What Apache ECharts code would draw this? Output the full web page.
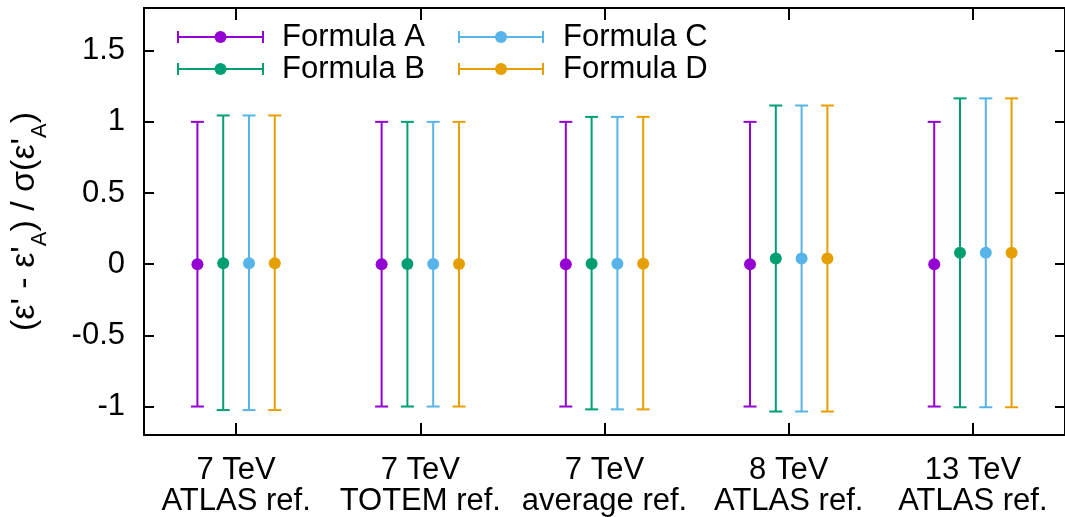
<!DOCTYPE html>
<html>
<head>
<meta charset="utf-8">
<script src="https://cdn.jsdelivr.net/npm/echarts@6/dist/echarts.min.js"></script>
<style>
  html, body { margin: 0; padding: 0; background: #fff; }
  #chart { width: 1065px; height: 517px; }
</style>
</head>
<body>
<div id="chart"></div>
<script>
// Categories along the x axis (energy / reference used)
const categories = ['7 TeV\nATLAS ref.', '7 TeV\nTOTEM ref.', '7 TeV\naverage ref.', '8 TeV\nATLAS ref.', '13 TeV\nATLAS ref.'];

// Normalised deviation: central value, upper end, lower end of each error bar
const formulaA_mid = [0, 0, 0, 0, 0];
const formulaA_hi  = [1, 1, 1, 1, 1];
const formulaA_lo  = [-1, -1, -1, -1, -1];

const formulaB_mid = [0.006, 0.002, 0.003, 0.04, 0.08];
const formulaB_hi  = [1.045, 1.0, 1.035, 1.115, 1.165];
const formulaB_lo  = [-1.025, -1.0, -1.02, -1.035, -1.005];

const formulaC_mid = [0.006, 0.002, 0.003, 0.04, 0.08];
const formulaC_hi  = [1.045, 1.0, 1.035, 1.115, 1.165];
const formulaC_lo  = [-1.025, -1.0, -1.02, -1.035, -1.005];

const formulaD_mid = [0.006, 0.002, 0.003, 0.04, 0.08];
const formulaD_hi  = [1.045, 1.0, 1.035, 1.115, 1.165];
const formulaD_lo  = [-1.025, -1.0, -1.02, -1.035, -1.005];

const yTicks = [-1, -0.5, 0, 0.5, 1, 1.5];

const FONT = "'Liberation Sans', Arial, Helvetica, sans-serif";
const FS = 31;
const formulas = [
  { name: 'Formula A', color: '#9400d3', mid: formulaA_mid, hi: formulaA_hi, lo: formulaA_lo, shift: -0.21 },
  { name: 'Formula B', color: '#009e73', mid: formulaB_mid, hi: formulaB_hi, lo: formulaB_lo, shift: -0.07 },
  { name: 'Formula C', color: '#56b4e9', mid: formulaC_mid, hi: formulaC_hi, lo: formulaC_lo, shift: 0.07 },
  { name: 'Formula D', color: '#e69f00', mid: formulaD_mid, hi: formulaD_hi, lo: formulaD_lo, shift: 0.21 }
];

const CAP = 6.5, DOT = 6, LW = 2;

function errorBarSeries(f) {
  return {
    type: 'custom',
    name: f.name,
    xAxisIndex: 0,
    yAxisIndex: 0,
    data: categories.map((c, i) => [i, f.mid[i], f.hi[i], f.lo[i]]),
    encode: { x: 0, y: [1, 2, 3] },
    renderItem: function (params, api) {
      const ci = api.value(0);
      const band = api.size([1, 0])[0];
      const mid = api.coord([ci, api.value(1)]);
      const top = api.coord([ci, api.value(2)]);
      const bot = api.coord([ci, api.value(3)]);
      const x = mid[0] + f.shift * band;
      const st = { stroke: f.color, lineWidth: LW };
      return {
        type: 'group',
        children: [
          { type: 'line', shape: { x1: x, y1: top[1], x2: x, y2: bot[1] }, style: st },
          { type: 'line', shape: { x1: x - CAP, y1: top[1], x2: x + CAP, y2: top[1] }, style: st },
          { type: 'line', shape: { x1: x - CAP, y1: bot[1], x2: x + CAP, y2: bot[1] }, style: st },
          { type: 'circle', shape: { cx: x, cy: mid[1], r: DOT }, style: { fill: f.color } }
        ]
      };
    }
  };
}

// Key in the top-left corner: horizontal error bar with a dot, then the label
function legendGraphic() {
  const slots = [
    { x0: 178, x1: 263, y: 37, tx: 282 },
    { x0: 178, x1: 263, y: 69, tx: 282 },
    { x0: 459, x1: 543, y: 37, tx: 563 },
    { x0: 459, x1: 543, y: 69, tx: 563 }
  ];
  const out = [];
  formulas.forEach((f, i) => {
    const s = slots[i];
    const st = { stroke: f.color, lineWidth: LW };
    out.push({ type: 'line', shape: { x1: s.x0, y1: s.y, x2: s.x1, y2: s.y }, style: st });
    out.push({ type: 'line', shape: { x1: s.x0, y1: s.y - 6, x2: s.x0, y2: s.y + 6 }, style: st });
    out.push({ type: 'line', shape: { x1: s.x1, y1: s.y - 6, x2: s.x1, y2: s.y + 6 }, style: st });
    out.push({ type: 'circle', shape: { cx: (s.x0 + s.x1) / 2, cy: s.y, r: DOT }, style: { fill: f.color } });
    out.push({ type: 'text', x: s.tx, y: s.y, style: { text: f.name, font: FS + 'px ' + FONT, fill: '#000', textVerticalAlign: 'middle' } });
  });
  return out;
}

const chart = echarts.init(document.getElementById('chart'), null, { renderer: 'canvas' });

const axisLine = { show: true, onZero: false, lineStyle: { color: '#000', width: 2 } };

chart.setOption({
  animation: false,
  backgroundColor: '#fff',
  grid: { left: 143, top: 8, width: 927, height: 427, containLabel: false },
  xAxis: [
    {
      type: 'category', data: categories, position: 'bottom', boundaryGap: true,
      axisLine: axisLine,
      axisTick: { show: true, inside: true, length: 12, alignWithLabel: true, lineStyle: { color: '#000', width: 2 } },
      axisLabel: { color: '#000', fontFamily: FONT, fontSize: FS, lineHeight: 31, margin: 20, interval: 0 },
      splitLine: { show: false }
    },
    {
      type: 'category', data: categories, position: 'top', boundaryGap: true,
      axisLine: axisLine,
      axisTick: { show: true, inside: true, length: 12, alignWithLabel: true, lineStyle: { color: '#000', width: 2 } },
      axisLabel: { show: false },
      splitLine: { show: false }
    }
  ],
  yAxis: [
    {
      type: 'value', min: -1.2, max: 1.8, position: 'left',
      name: "(ε' - ε'{s|A}) / σ(ε'{s|A})",
      nameLocation: 'middle', nameGap: 102, nameRotate: 90,
      nameTextStyle: {
        color: '#000', fontFamily: FONT, fontSize: 34,
        rich: { s: { fontFamily: FONT, fontSize: 22, color: '#000', verticalAlign: 'bottom', padding: [0, 0, -9, 0] } }
      },
      axisLine: axisLine,
      axisTick: { show: true, inside: true, length: 10, customValues: yTicks, lineStyle: { color: '#000', width: 2 } },
      axisLabel: { color: '#000', fontFamily: FONT, fontSize: FS, margin: 19, customValues: yTicks },
      splitLine: { show: false }
    },
    {
      type: 'value', min: -1.2, max: 1.8, position: 'right',
      axisLine: axisLine,
      axisTick: { show: true, inside: true, length: 10, customValues: yTicks, lineStyle: { color: '#000', width: 2 } },
      axisLabel: { show: false },
      splitLine: { show: false }
    }
  ],
  series: formulas.map(errorBarSeries),
  graphic: legendGraphic()
});
</script>
</body>
</html>
